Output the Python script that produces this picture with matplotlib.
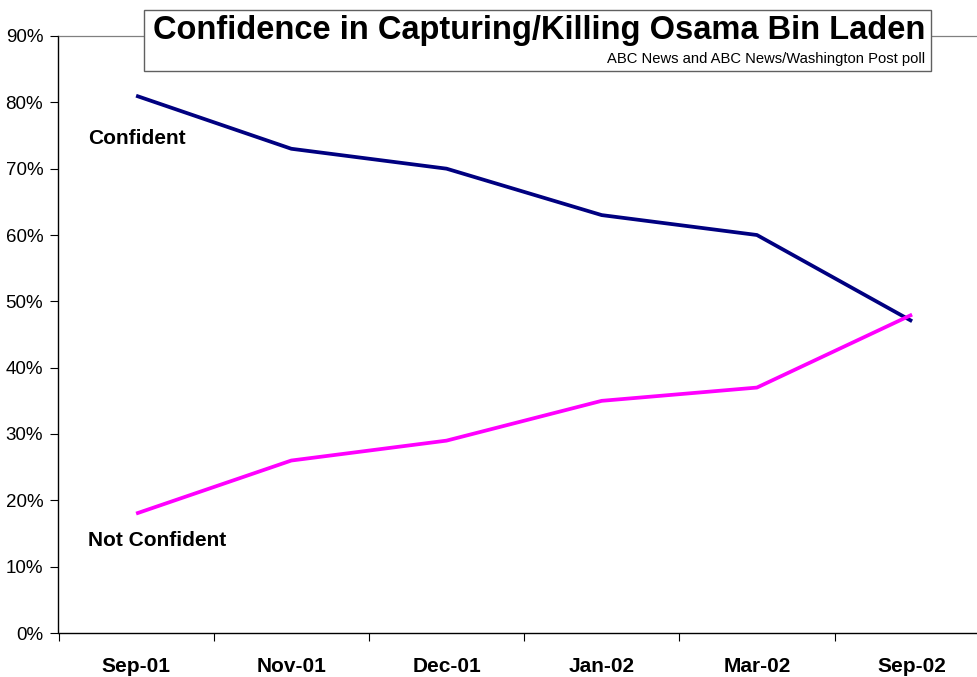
import numpy as np
import matplotlib
matplotlib.use("Agg")
import matplotlib.pyplot as plt
from matplotlib.patches import Rectangle
from matplotlib.ticker import FixedLocator, FuncFormatter

months = ["Sep-01", "Nov-01", "Dec-01", "Jan-02", "Mar-02", "Sep-02"]
confident = [81, 73, 70, 63, 60, 47]
not_confident = [18, 26, 29, 35, 37, 48]

plt.rcParams['font.family'] = ['Liberation Sans', 'DejaVu Sans']

W, H = 978, 677
fig = plt.figure(figsize=(W / 100, H / 100), dpi=100)

# plot area runs past the right edge of the picture, as in the original
left, right, top, bottom = 58.5, 989.7, 36, 633
ax = fig.add_axes([left / W, (H - bottom) / H, (right - left) / W, (bottom - top) / H])

x = np.arange(len(months))
ax.plot(x, confident, color="#000080", lw=2.7, solid_capstyle="butt", zorder=3)
ax.plot(x, not_confident, color="#FF00FF", lw=2.7, solid_capstyle="butt", zorder=3)

ax.set_xlim(-0.5, len(months) - 0.5)
ax.set_ylim(0, 90)

ax.yaxis.set_major_locator(FixedLocator(np.arange(0, 91, 10)))
ax.yaxis.set_major_formatter(FuncFormatter(lambda v, p: f"{v:.0f}%"))
ax.tick_params(axis="y", direction="out", length=6, width=0.8, labelsize=13.5, pad=5)

# ticks between categories, labels centred under each category
ax.xaxis.set_major_locator(FixedLocator(np.arange(-0.5, len(months), 1.0)))
ax.xaxis.set_major_formatter(FuncFormatter(lambda v, p: ""))
ax.set_xticks(x, minor=True)
ax.set_xticklabels(months, minor=True, fontsize=15, fontweight="bold")
ax.tick_params(axis="x", which="major", direction="out", length=6, width=0.8)
ax.tick_params(axis="x", which="minor", length=0, pad=17)

for s in ["left", "bottom"]:
    ax.spines[s].set_color("black")
    ax.spines[s].set_linewidth(1.0)
ax.spines["top"].set_color("#808080")
ax.spines["top"].set_linewidth(0.9)
ax.spines["right"].set_visible(False)

fig.text(88 / W, (H - 139) / H, "Confident", fontsize=15, fontweight="bold",
         va="center", ha="left")
fig.text(88 / W, (H - 541) / H, "Not Confident", fontsize=15, fontweight="bold",
         va="center", ha="left")

# title box
bx0, by0, bx1, by1 = 144.5, 10, 931, 71
fig.patches.append(Rectangle((bx0 / W, (H - by1) / H), (bx1 - bx0) / W, (by1 - by0) / H,
                             transform=fig.transFigure, facecolor="white",
                             edgecolor="#606060", lw=1.0, zorder=5))
fig.text(539 / W, (H - 31) / H, "Confidence in Capturing/Killing Osama Bin Laden",
         fontsize=23.5, fontweight="bold", ha="center", va="center", zorder=6)
fig.text(925 / W, (H - 59) / H, "ABC News and ABC News/Washington Post poll",
         fontsize=10.6, ha="right", va="center", zorder=6)

fig.savefig("out.png", dpi=100)
